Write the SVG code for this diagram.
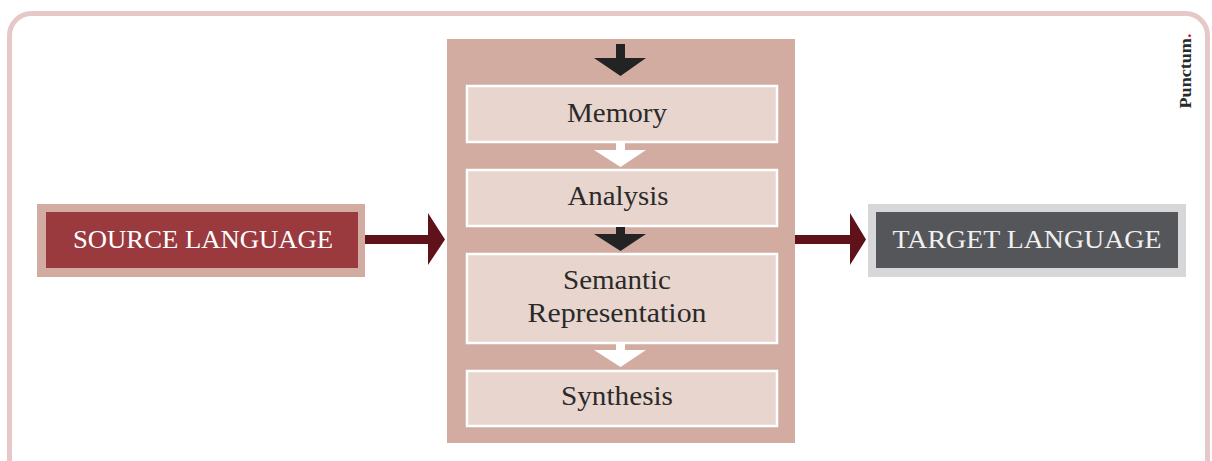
<svg xmlns="http://www.w3.org/2000/svg" width="1212" height="461" viewBox="0 0 1212 461">
<style>
.frame{fill:#ffffff;stroke:#e6c8c8;stroke-width:5}
.step rect{fill:#e8d5ce;stroke:#ffffff;stroke-width:2.5}
.lbl{font-family:"Liberation Serif",serif;font-size:27px;fill:#2a2a2a;text-anchor:middle}
.cap{font-family:"Liberation Serif",serif;font-size:25px;text-anchor:middle}
.dark{fill:#232323}
.light{fill:#ffffff}
.red{fill:#5f1219}
</style>
<rect class="frame" x="9.5" y="13.5" width="1198" height="480" rx="22"/>
<g id="processor">
<rect x="447" y="39" width="348" height="404" fill="#d2aca0"/>
</g>
<g id="source">
<rect x="37" y="204" width="328" height="73" fill="#d2aca0"/>
<rect x="46" y="212" width="312" height="56" fill="#9a3a3e"/>
<text class="cap" x="203" y="248" fill="#ffffff" textLength="260" lengthAdjust="spacingAndGlyphs">SOURCE LANGUAGE</text>
</g>
<g id="target">
<rect x="868" y="204" width="318" height="73" fill="#d7d7d9"/>
<rect x="876" y="212" width="302" height="56" fill="#55565a"/>
<text class="cap" x="1027" y="248" fill="#f0f0f0" textLength="269" lengthAdjust="spacingAndGlyphs">TARGET LANGUAGE</text>
</g>
<g id="memory" class="step">
<rect x="467" y="86" width="310" height="56"/>
<text class="lbl" x="617" y="122" textLength="100" lengthAdjust="spacingAndGlyphs">Memory</text>
</g>
<g id="analysis" class="step">
<rect x="467" y="170" width="310" height="56"/>
<text class="lbl" x="618" y="205" textLength="101" lengthAdjust="spacingAndGlyphs">Analysis</text>
</g>
<g id="semantic" class="step">
<rect x="467" y="254" width="310" height="89"/>
<text class="lbl" x="617" y="289" textLength="108" lengthAdjust="spacingAndGlyphs">Semantic</text>
<text class="lbl" x="617" y="322" textLength="179" lengthAdjust="spacingAndGlyphs">Representation</text>
</g>
<g id="synthesis" class="step">
<rect x="467" y="371" width="310" height="55"/>
<text class="lbl" x="617" y="405" textLength="112" lengthAdjust="spacingAndGlyphs">Synthesis</text>
</g>
<g id="connectors">
<polygon class="dark" points="616,44 625,44 625,58 646,58 620.5,76 594,58 616,58"/>
<polygon class="light" points="616,143 625,143 625,150 646,150 620.5,167 594,150 616,150"/>
<polygon class="dark" points="616,227 625,227 625,234 646,234 620.5,251 594,234 616,234"/>
<polygon class="light" points="616,344 625,344 625,350 646,350 620.5,367 594,350 616,350"/>
<polygon class="red" points="365,235 428,235 428,213 445,239.5 428,265 428,244 365,244"/>
<polygon class="red" points="795,235 850,235 850,213 866,239.5 850,265 850,244 795,244"/>
</g>
<text x="1191" y="71" transform="rotate(-90 1191 71)" text-anchor="middle" font-family="Liberation Serif,serif" font-weight="bold" font-size="17" fill="#2a2a2a" textLength="75" lengthAdjust="spacingAndGlyphs">Punctum<tspan fill="#c0262d">.</tspan></text>
</svg>
